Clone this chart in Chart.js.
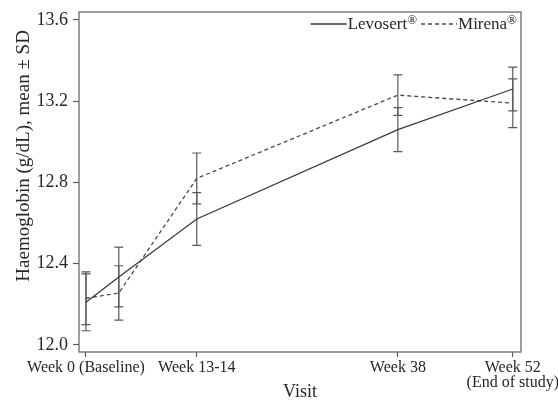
<!DOCTYPE html>
<html>
<head>
<meta charset="utf-8">
<script src="https://cdn.jsdelivr.net/npm/chart.js@4.4.1/dist/chart.umd.min.js"></script>
<style>
  html, body { margin: 0; padding: 0; background: #fff; }
  #wrap { width: 558px; height: 400px; }
</style>
</head>
<body>
<div id="wrap"><canvas id="hbChart"></canvas></div>
<script>
// visit weeks (week 4 visit is plotted but not labelled on the axis)
const weeks = [0, 4, 13.5, 38, 52];
const levosertMean = [12.21, 12.335, 12.62, 13.06, 13.26];
const levosertSD = [0.14, 0.147, 0.13, 0.108, 0.108];
const mirenaMean = [12.23, 12.256, 12.82, 13.23, 13.19];
const mirenaSD = [0.13, 0.134, 0.125, 0.10, 0.12];

const xTickWeeks = [0, 13.5, 38, 52];
const xTickLabels = ['Week 0 (Baseline)', 'Week 13-14', 'Week 38', ['Week 52', '(End of study)']];
const yTicks = [12.0, 12.4, 12.8, 13.2, 13.6];

const serif = 'Liberation Serif';
const ink = '#262626';
const axisGrey = '#5a5a5a';

const errorBars = {
    id: 'errorBars',
    beforeDatasetsDraw(chart) {
        const { ctx, scales: { x, y } } = chart;
        ctx.save();
        ctx.strokeStyle = axisGrey;
        ctx.lineWidth = 1.2;
        chart.data.datasets.forEach(ds => {
            ds.data.forEach((p, i) => {
                const px = x.getPixelForValue(p.x);
                const lo = y.getPixelForValue(p.y - ds.sd[i]);
                const hi = y.getPixelForValue(p.y + ds.sd[i]);
                ctx.beginPath();
                ctx.moveTo(px, lo); ctx.lineTo(px, hi);
                ctx.moveTo(px - 4.5, lo); ctx.lineTo(px + 4.5, lo);
                ctx.moveTo(px - 4.5, hi); ctx.lineTo(px + 4.5, hi);
                ctx.stroke();
            });
        });
        ctx.restore();
    }
};

const frameAndKey = {
    id: 'frameAndKey',
    afterDraw(chart) {
        const { ctx, chartArea: a } = chart;
        ctx.save();
        ctx.strokeStyle = '#6a6a6a';
        ctx.lineWidth = 1.3;
        ctx.strokeRect(a.left, a.top, a.right - a.left, a.bottom - a.top);

        // key, right aligned inside the plot box
        const mainFont = '17px "' + serif + '"';
        const supFont = '13px "' + serif + '"';
        const sample = 36;
        const items = chart.data.datasets.map(ds => {
            const base = ds.label.replace('®', '');
            ctx.font = mainFont;
            const w1 = ctx.measureText(base).width;
            ctx.font = supFont;
            const w2 = ctx.measureText('®').width;
            return { ds, base, w1, w2 };
        });
        const gap = 4;
        let total = 0;
        items.forEach((it, i) => { total += sample + 1 + it.w1 + it.w2 + (i ? gap : 0); });
        let xPos = a.right - 4 - total;
        const lineY = a.top + 12;
        const baseY = a.top + 17;
        items.forEach((it, i) => {
            if (i) xPos += gap;
            ctx.strokeStyle = it.ds.borderColor;
            ctx.lineWidth = it.ds.borderWidth;
            ctx.setLineDash(it.ds.borderDash || []);
            ctx.beginPath();
            ctx.moveTo(xPos, lineY); ctx.lineTo(xPos + sample, lineY);
            ctx.stroke();
            ctx.setLineDash([]);
            xPos += sample + 1;
            ctx.fillStyle = ink;
            ctx.textBaseline = 'alphabetic';
            ctx.textAlign = 'left';
            ctx.font = mainFont;
            ctx.fillText(it.base, xPos, baseY);
            xPos += it.w1;
            ctx.font = supFont;
            ctx.fillText('®', xPos, baseY - 5);
            xPos += it.w2;
        });
        ctx.restore();
    }
};

const toPoints = means => weeks.map((w, i) => ({ x: w, y: means[i] }));

new Chart(document.getElementById('hbChart'), {
    type: 'line',
    data: {
        datasets: [
            {
                label: 'Levosert®',
                data: toPoints(levosertMean),
                sd: levosertSD,
                borderColor: '#3a3a3a', borderWidth: 1.3,
                pointRadius: 0, tension: 0, fill: false
            },
            {
                label: 'Mirena®',
                data: toPoints(mirenaMean),
                sd: mirenaSD,
                borderColor: '#4a4a4a', borderWidth: 1.3, borderDash: [4, 3],
                pointRadius: 0, tension: 0, fill: false
            }
        ]
    },
    options: {
        responsive: true, maintainAspectRatio: false,
        animation: false, devicePixelRatio: 1,
        layout: { padding: { top: 12, right: 37, bottom: 0, left: 0 } },
        plugins: { legend: { display: false }, tooltip: { enabled: false } },
        scales: {
            x: {
                type: 'linear', min: -0.85, max: 53,
                afterBuildTicks: s => { s.ticks = xTickWeeks.map(v => ({ value: v })); },
                afterFit: s => { s.height = 48; s.paddingLeft = 0; s.paddingRight = 0; },
                ticks: {
                    autoSkip: false, maxRotation: 0, padding: 3, color: ink,
                    font: { family: serif, size: 16, lineHeight: 0.94 },
                    callback: v => xTickLabels[xTickWeeks.indexOf(v)]
                },
                grid: { display: true, drawOnChartArea: false, drawTicks: true, tickLength: 5, color: axisGrey, tickWidth: 1.2 },
                border: { display: false },
                title: {
                    display: true, text: 'Visit', color: ink,
                    font: { family: serif, size: 18 },
                    padding: { top: 0, bottom: -3 }
                }
            },
            y: {
                type: 'linear', min: 11.9655, max: 13.639,
                afterBuildTicks: s => { s.ticks = yTicks.map(v => ({ value: v })); },
                afterFit: s => { s.width = 79; s.paddingTop = 0; s.paddingBottom = 0; },
                ticks: {
                    padding: 5, color: ink,
                    font: { family: serif, size: 18 },
                    callback: v => v.toFixed(1)
                },
                grid: { display: true, drawOnChartArea: false, drawTicks: true, tickLength: 6, color: axisGrey, tickWidth: 1.2 },
                border: { display: false },
                title: {
                    display: true, text: '           Haemoglobin (g/dL), mean ± SD', color: ink,
                    font: { family: serif, size: 19 },
                    padding: { top: 13, bottom: 0 }
                }
            }
        }
    },
    plugins: [errorBars, frameAndKey]
});
</script>
</body>
</html>
